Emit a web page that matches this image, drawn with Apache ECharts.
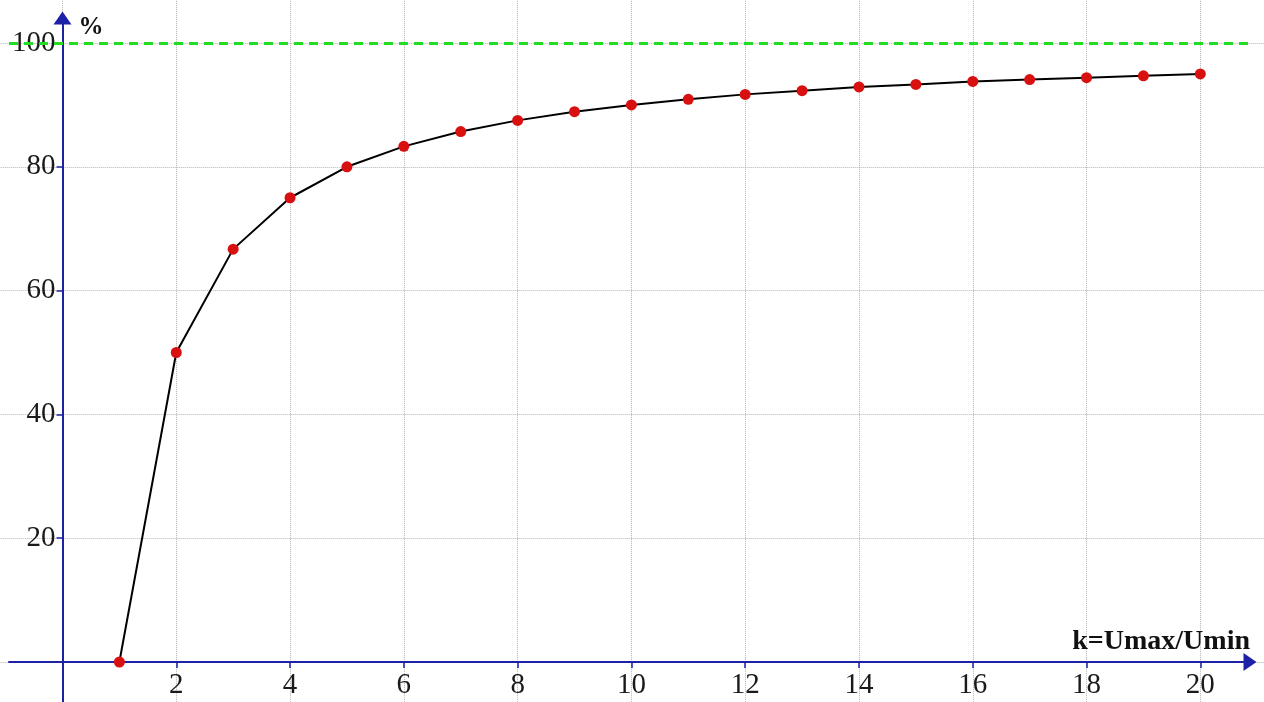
<!DOCTYPE html>
<html>
<head>
<meta charset="utf-8">
<script src="https://cdn.jsdelivr.net/npm/echarts@6/dist/echarts.min.js"></script>
<style>
html, body { margin: 0; padding: 0; background: #fff; }
#main { width: 1264px; height: 702px; }
</style>
</head>
<body>
<div id="main"></div>
<script>
// k values and efficiency (%)
var kValues = [1, 2, 3, 4, 5, 6, 7, 8, 9, 10, 11, 12, 13, 14, 15, 16, 17, 18, 19, 20];
var percent = [0, 50, 66.7, 75, 80, 83.3, 85.7, 87.5, 88.9, 90, 90.9, 91.7, 92.3, 92.9, 93.3, 93.8, 94.1, 94.4, 94.7, 95];
var limitValue = 100;

var axisBlue = '#1c22a6';
var font = '"Liberation Serif", "Times New Roman", serif';

var chart = echarts.init(document.getElementById('main'));

var pts = [];
for (var i = 0; i < kValues.length; i++) {
	pts.push([kValues[i], percent[i]]);
}

var noBounds = { containLabel: false, outerBoundsMode: 'none' };

var option = {
	backgroundColor: '#fff',
	animation: false,
	grid: [
		// grid 0 : dotted grid lines and the data
		Object.assign({ left: -51.3, right: -50.1, top: -80.8, bottom: -83.8 }, noBounds),
		// grid 1 : the two axes with arrows
		Object.assign({ left: 9, right: 14, top: 18, bottom: 0 }, noBounds),
		// grid 2 : tick labels, its bottom-left corner is the origin
		Object.assign({ left: 62.5, right: -50.1, top: -80.8, bottom: 40 }, noBounds)
	],
	xAxis: [{
		gridIndex: 0,
		type: 'value',
		min: -2,
		max: 22,
		interval: 2,
		axisLine: { show: false },
		axisTick: { show: false },
		axisLabel: { show: false },
		splitLine: { show: true, lineStyle: { color: '#b4b4b4', type: 'dotted', width: 1 } }
	}, {
		gridIndex: 1,
		type: 'value',
		min: -0.94,
		max: 20.87,
		axisLine: {
			show: true,
			onZero: true,
			symbol: ['none', 'triangle'],
			symbolSize: [18, 13],
			lineStyle: { color: axisBlue, width: 2 }
		},
		axisTick: { show: false },
		axisLabel: { show: false },
		splitLine: { show: false },
		name: 'k=Umax/Umin',
		nameLocation: 'end',
		nameGap: 0,
		nameTextStyle: {
			fontFamily: font,
			fontWeight: 'bold',
			fontSize: 28,
			color: '#111',
			align: 'right',
			verticalAlign: 'bottom',
			padding: [0, 0, 6, 0]
		}
	}, {
		gridIndex: 2,
		type: 'value',
		position: 'bottom',
		min: 0,
		max: 22,
		interval: 2,
		axisLine: { show: false, onZero: false },
		axisTick: { show: true, length: 6, lineStyle: { color: axisBlue, width: 1.5 } },
		axisLabel: {
			margin: 9,
			color: '#1a1a1a',
			fontFamily: font,
			fontSize: 29,
			formatter: function (v) { return (v >= 2 && v <= 20) ? String(v) : ''; }
		},
		splitLine: { show: false }
	}],
	yAxis: [{
		gridIndex: 0,
		type: 'value',
		min: -20,
		max: 120,
		interval: 20,
		axisLine: { show: false },
		axisTick: { show: false },
		axisLabel: { show: false },
		splitLine: { show: true, lineStyle: { color: '#b4b4b4', type: 'dotted', width: 1 } }
	}, {
		gridIndex: 1,
		type: 'value',
		min: -6.46,
		max: 104.0,
		axisLine: {
			show: true,
			onZero: true,
			symbol: ['none', 'triangle'],
			symbolSize: [18, 13],
			lineStyle: { color: axisBlue, width: 2 }
		},
		axisTick: { show: false },
		axisLabel: { show: false },
		splitLine: { show: false },
		name: '%',
		nameLocation: 'end',
		nameGap: 3,
		nameTextStyle: {
			fontFamily: font,
			fontWeight: 'bold',
			fontSize: 25,
			color: '#111',
			align: 'left',
			verticalAlign: 'top',
			padding: [0, 0, 0, 16]
		}
	}, {
		gridIndex: 2,
		type: 'value',
		position: 'left',
		min: 0,
		max: 120,
		interval: 20,
		axisLine: { show: false, onZero: false },
		axisTick: { show: true, length: 6, lineStyle: { color: axisBlue, width: 1.5 } },
		axisLabel: {
			margin: 7,
			color: '#1a1a1a',
			fontFamily: font,
			fontSize: 29,
			formatter: function (v) { return (v >= 20 && v <= 100) ? String(v) : ''; }
		},
		splitLine: { show: false }
	}],
	series: [{
		type: 'line',
		xAxisIndex: 1,
		yAxisIndex: 1,
		data: [],
		silent: true,
		markLine: {
			symbol: ['none', 'none'],
			silent: true,
			label: { show: false },
			lineStyle: { color: '#22dd22', type: [9, 6], width: 3 },
			data: [{ yAxis: limitValue }]
		}
	}, {
		type: 'line',
		xAxisIndex: 0,
		yAxisIndex: 0,
		data: pts,
		symbol: 'circle',
		symbolSize: 11,
		showAllSymbol: true,
		lineStyle: { color: '#000', width: 2 },
		itemStyle: { color: '#d81010' },
		z: 5
	}]
};

chart.setOption(option);
</script>
</body>
</html>
